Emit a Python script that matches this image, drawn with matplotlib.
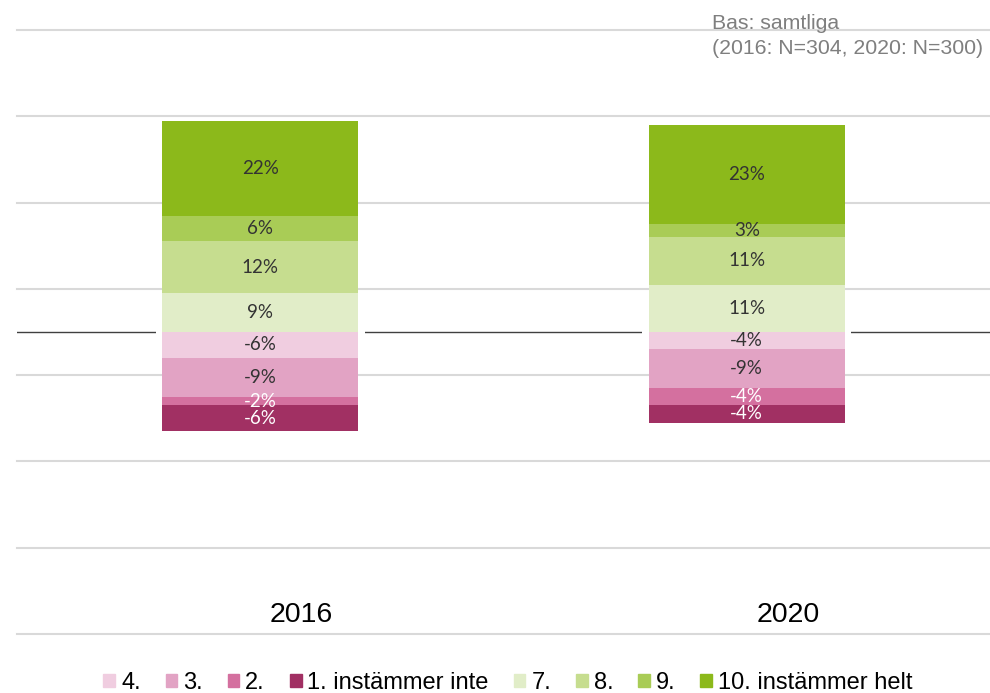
import matplotlib.pyplot as plt
from matplotlib.patches import Patch

years = ["2016", "2020"]

# negative side (disagree), stacked downward from zero
neg_labels = ["4.", "3.", "2.", "1. instämmer inte"]
neg_values = {
    "4.": [-6, -4],
    "3.": [-9, -9],
    "2.": [-2, -4],
    "1. instämmer inte": [-6, -4],
}
# positive side (agree), stacked upward from zero
pos_labels = ["7.", "8.", "9.", "10. instämmer helt"]
pos_values = {
    "7.": [9, 11],
    "8.": [12, 11],
    "9.": [6, 3],
    "10. instämmer helt": [22, 23],
}

colors = {
    "4.": "#f0cde0",
    "3.": "#e2a3c4",
    "2.": "#d4709f",
    "1. instämmer inte": "#a13063",
    "7.": "#e1edc8",
    "8.": "#c6dd8f",
    "9.": "#a9cc56",
    "10. instämmer helt": "#8cb91b",
}
text_colors = {
    "4.": "#333333", "3.": "#333333", "2.": "white", "1. instämmer inte": "white",
    "7.": "#333333", "8.": "#333333", "9.": "#333333", "10. instämmer helt": "#333333",
}

fig = plt.figure(figsize=(9.9, 6.93), dpi=100)
ax = fig.add_axes([17 / 990, 59 / 693, 973 / 990, 604 / 693])

x = range(len(years))
width = 0.403

for y in range(-70, 71, 20):
    ax.axhline(y, color="#d9d9d9", lw=1.5, zorder=0, clip_on=False)

ax.axhline(0, color="#404040", lw=1.0, zorder=1)
# white gap around the bars on the zero line
ax.bar(x, 4, bottom=-2, width=0.43, color="white", zorder=2)

for labels, values in [(pos_labels, pos_values), (neg_labels, neg_values)]:
    bottom = [0, 0]
    for lab in labels:
        vals = values[lab]
        ax.bar(x, vals, bottom=bottom, width=width, color=colors[lab], zorder=3)
        for i, v in enumerate(vals):
            ax.text(i, bottom[i] + v / 2, f"{v}%", ha="center", va="center",
                    fontsize=13.5, family="Lato", color=text_colors[lab], zorder=4)
        bottom = [b + v for b, v in zip(bottom, vals)]

for i, yr in enumerate(years):
    ax.text(i + 0.085, -65.5, yr, ha="center", va="center", fontsize=20.5,
            family="Liberation Sans", color="black")

ax.set_xlim(-0.5, 1.5)
ax.set_ylim(-70, 70)
ax.axis("off")

fig.text(712 / 990, 1 - 36 / 693, "Bas: samtliga\n(2016: N=304, 2020: N=300)",
         ha="left", va="center", fontsize=15.3, family="Liberation Sans",
         color="#7f7f7f", linespacing=1.4)

handles = [Patch(color=colors[l]) for l in neg_labels + pos_labels]
fig.legend(handles, neg_labels + pos_labels, loc="center", bbox_to_anchor=(0.513, 1 - 683 / 693),
           ncol=8, frameon=False, prop={"family": "Liberation Sans", "size": 17},
           handlelength=0.5, handleheight=0.5, handletextpad=0.25, columnspacing=1.05)

fig.savefig("out.png", dpi=100)
